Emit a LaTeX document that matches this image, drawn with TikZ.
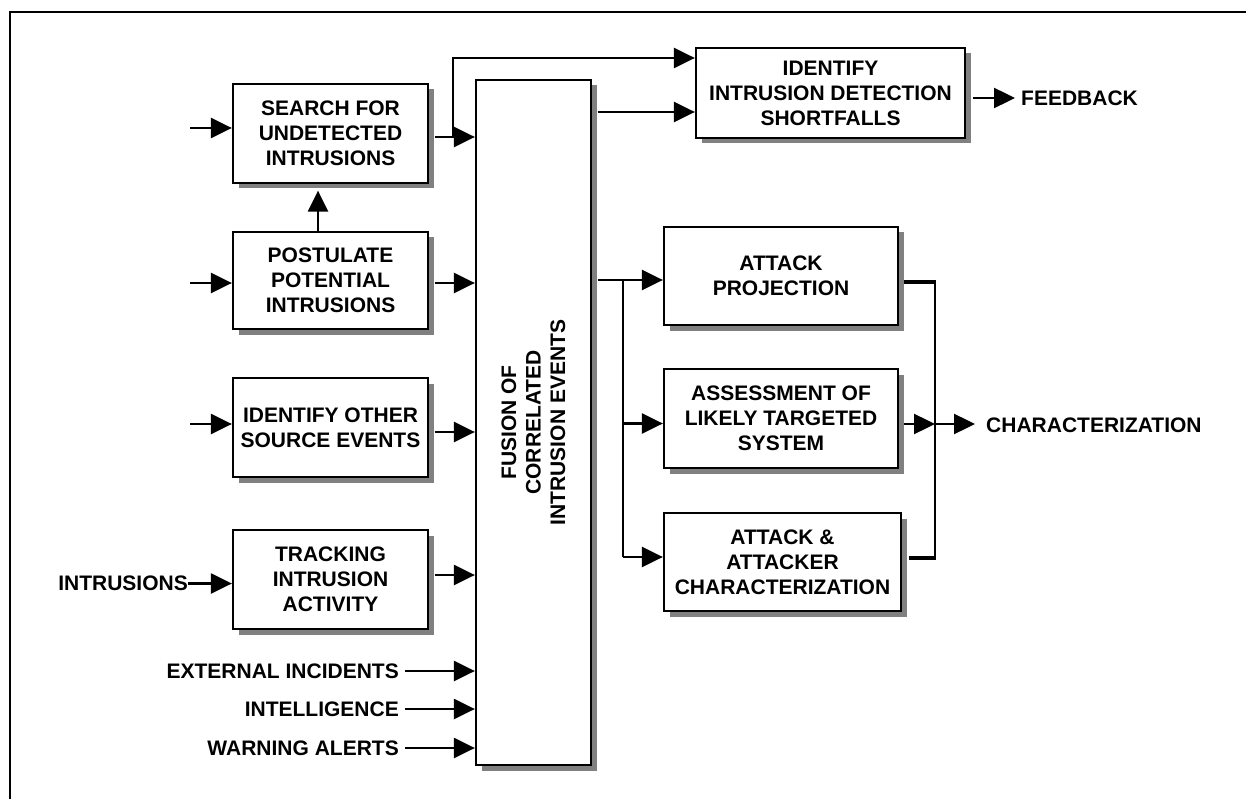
\documentclass[tikz,border=0pt]{standalone}
\usepackage{fontspec}
\setmainfont{Liberation Sans}
\usetikzlibrary{arrows.meta,shadows,calc}
\begin{document}
\begin{tikzpicture}[x=1pt,y=-1pt,
  every node/.style={font=\fontsize{21}{25}\selectfont\bfseries, text=black},
  box/.style={draw, line width=2.3pt, fill=white, inner sep=0pt, align=center,
    drop shadow={shadow xshift=5.5pt, shadow yshift=-5.5pt, fill=black!50, opacity=1}},
  lbl/.style={inner sep=0pt},
  conn/.style={line width=2.4pt},
  heavy/.style={line width=4.5pt},
  arr/.style={line width=2.4pt, -{Triangle[length=21pt,width=20pt]}}]
\useasboundingbox (0,0) rectangle (1246,799);
\draw[line width=2pt] (9.5,799) -- (9.5,12) -- (1246,12);

% boxes
\node[box, minimum width=195pt, minimum height=99pt] (search) at (330.5,133.5) {SEARCH FOR\\UNDETECTED\\INTRUSIONS};
\node[box, minimum width=195pt, minimum height=97pt] (post) at (330.5,280.5) {POSTULATE\\POTENTIAL\\INTRUSIONS};
\node[box, minimum width=195pt, minimum height=99pt] (src) at (330.5,427.5) {IDENTIFY OTHER\\SOURCE EVENTS};
\node[box, minimum width=195pt, minimum height=99pt] (track) at (330.5,579.5) {TRACKING\\INTRUSION\\ACTIVITY};
\node[box, minimum width=115pt, minimum height=685pt] (fusion) at (533.5,422.5) {};
\node[rotate=90, align=center, inner sep=0pt, font=\fontsize{21}{24.5}\selectfont\bfseries] (fusiontxt) at (fusion.center) {FUSION OF\\CORRELATED\\INTRUSION EVENTS};
\node[box, minimum width=269pt, minimum height=90pt] (ident) at (830.5,93) {IDENTIFY\\INTRUSION DETECTION\\SHORTFALLS};
\node[box, minimum width=234pt, minimum height=98pt] (proj) at (781,276) {ATTACK\\PROJECTION};
\node[box, minimum width=234pt, minimum height=99pt] (assess) at (781,418.5) {ASSESSMENT OF\\LIKELY TARGETED\\SYSTEM};
\node[box, minimum width=237pt, minimum height=98pt] (char) at (782.5,562) {ATTACK \&\\ATTACKER\\CHARACTERIZATION};

% labels
\node[lbl, anchor=east] (intr) at (188,583.5) {INTRUSIONS};
\node[lbl, anchor=east] (ext) at (399,671) {EXTERNAL INCIDENTS};
\node[lbl, anchor=east] (intel) at (399,709) {INTELLIGENCE};
\node[lbl, anchor=east] (warn) at (399,748) {WARNING ALERTS};
\node[lbl, anchor=west] (fb) at (1021,98) {FEEDBACK};
\node[lbl, anchor=west] (charz) at (986,425) {CHARACTERIZATION};

% left inputs
\coordinate (in1) at (190,128);
\coordinate (in2) at (190,283);
\coordinate (in3) at (190,424);
\draw[arr] (in1) -- (in1 -| search.west);
\draw[arr] (in2) -- (in2 -| post.west);
\draw[arr] (in3) -- (in3 -| src.west);
\draw[arr] (intr.east) -- (intr.east -| track.west);

% boxes to fusion
\path ($(search.east)+(5.5,3.5)$) coordinate (s1);
\path ($(post.east)+(5.5,2.5)$) coordinate (p1);
\path ($(src.east)+(5.5,4.5)$) coordinate (o1);
\path ($(track.east)+(5.5,-4.5)$) coordinate (t1);
\draw[arr] (s1) -- (s1 -| fusion.west);
\draw[arr] (p1) -- (p1 -| fusion.west);
\draw[arr] (o1) -- (o1 -| fusion.west);
\draw[arr] (t1) -- (t1 -| fusion.west);
\draw[arr] ($(s1)+(18.5,0)$) |- ($(ident.west)+(0,-35)$);
\draw[arr] ($(post.north)+(-12.5,0)$) -- ($(search.south)+(-12.5,6.5)$);

% external inputs
\draw[arr] ($(ext.east)+(6,0)$) -- (ext.east -| fusion.west);
\draw[arr] ($(intel.east)+(6,0)$) -- (intel.east -| fusion.west);
\draw[arr] ($(warn.east)+(6,0)$) -- (warn.east -| fusion.west);

% fusion outputs
\path ($(fusion.east)+(5.5,-310.5)$) coordinate (f1);
\path ($(fusion.east)+(5.5,-142.5)$) coordinate (f2);
\draw[arr] (f1) -- (f1 -| ident.west);
\draw[arr] (f2) -- (f2 -| proj.west);
\coordinate (vtop) at (623,280);
\coordinate (vmid) at (623,423.5);
\coordinate (vbot) at (623,557);
\draw[conn] ($(vtop)+(0,-1.2)$) -- (vbot);
\draw[arr] (vmid) -- (vmid -| assess.west);
\draw[arr] (vbot) -- (vbot -| char.west);

% feedback
\draw[arr] ($(ident.east)+(7,5)$) -- ($(fb.west)+(-6,0)$);

% right collector
\coordinate (rtop) at (935,282);
\coordinate (rmid) at (935,424);
\coordinate (rbot) at (935,558);
\draw[conn] ($(rtop)+(0,-2)$) -- ($(rbot)+(0,2)$);
\draw[heavy] ($(proj.east)+(5,6)$) -- ($(rtop)+(1,0)$);
\draw[heavy] ($(char.east)+(6.5,-4)$) -- ($(rbot)+(1,0)$);
\draw[arr] ($(assess.east)+(5,5.5)$) -- (rmid);
\draw[arr] (rmid) -- ($(charz.west)+(-11,-1)$);
\end{tikzpicture}
\end{document}
